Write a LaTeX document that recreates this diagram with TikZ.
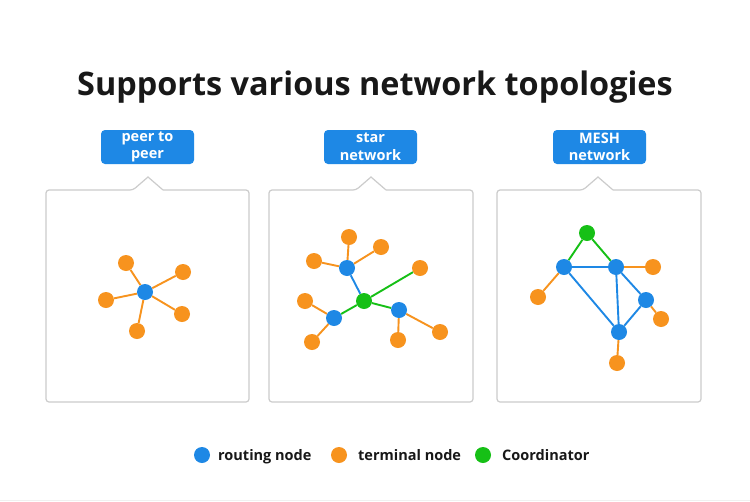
\documentclass[tikz,border=0pt]{standalone}
\usepackage{fontspec}
\setmainfont{Open Sans}
\definecolor{cblue}{RGB}{30,136,229}
\definecolor{corange}{RGB}{247,147,30}
\definecolor{cgreen}{RGB}{22,192,22}
\definecolor{cborder}{RGB}{204,204,204}
\definecolor{ctext}{RGB}{24,24,24}
\begin{document}
\begin{tikzpicture}[x=1pt,y=-1pt,
 dot/.style={circle,inner sep=0pt,minimum size=16pt},
 rnode/.style={dot,fill=cblue},
 tnode/.style={dot,fill=corange},
 cnode/.style={dot,fill=cgreen},
 te/.style={draw=corange,line width=1.9pt},
 be/.style={draw=cblue,line width=1.9pt},
 ge/.style={draw=cgreen,line width=1.9pt},
 panel/.style={draw=cborder,line width=1.2pt,fill=white,rounded corners=3pt},
 tag/.style={fill=cblue,rounded corners=4pt,text=white,font=\bfseries\fontsize{14.5}{17.5}\selectfont,align=center,minimum width=93pt,minimum height=34pt,inner sep=0pt},
 legtext/.style={anchor=base west,text=ctext,font=\bfseries\fontsize{14.5}{18}\selectfont,inner sep=0pt}
]
\useasboundingbox[fill=white] (0,0) rectangle (750,501);
\draw[gray!12,line width=1pt] (0,500.5) -- (750,500.5);

% title
\node[anchor=base,text=ctext,font=\bfseries\fontsize{32.4}{40}\selectfont,inner sep=0pt] (title) at (375,95) {Supports various network topologies};

% panels
\draw[panel] (163,190) -- (249,190) -- (249,402) -- (46,402) -- (46,190) -- (133,190) [sharp corners] -- (148,177) -- (163,190);
\draw[panel] (386,190) -- (473,190) -- (473,402) -- (269,402) -- (269,190) -- (356,190) [sharp corners] -- (371,177) -- (386,190);
\draw[panel] (613,190) -- (701,190) -- (701,402) -- (497,402) -- (497,190) -- (583,190) [sharp corners] -- (598,177) -- (613,190);

% tags
\node[tag] (tag1) at (147.5,147) {peer to\\peer};
\node[tag] (tag2) at (370.5,147) {star\\network};
\node[tag] (tag3) at (599.5,147) {MESH\\network};

% panel 1: peer to peer
\node[rnode] (p0) at (145,292) {};
\node[tnode] (p1) at (126,263) {};
\node[tnode] (p2) at (183,272) {};
\node[tnode] (p3) at (106,300) {};
\node[tnode] (p4) at (182,314) {};
\node[tnode] (p5) at (137,331) {};
\foreach \t in {p1,p2,p3,p4,p5} \draw[te] (p0) -- (\t);

% panel 2: star network
\node[cnode] (sg) at (364,301) {};
\node[rnode] (sa) at (347,268) {};
\node[rnode] (sb) at (334,318) {};
\node[rnode] (sc) at (399,310) {};
\node[tnode] (sa1) at (349,237) {};
\node[tnode] (sa2) at (381,247) {};
\node[tnode] (sa3) at (314,261) {};
\node[tnode] (sg1) at (420,268) {};
\node[tnode] (sb1) at (305,301) {};
\node[tnode] (sb2) at (312,342) {};
\node[tnode] (sc1) at (398,340) {};
\node[tnode] (sc2) at (440,332) {};
\draw[be] (sa) -- (sg);
\draw[ge] (sg) -- (sg1);
\draw[ge] (sg) -- (sb);
\draw[ge] (sg) -- (sc);
\foreach \t in {sa1,sa2,sa3} \draw[te] (sa) -- (\t);
\foreach \t in {sb1,sb2} \draw[te] (sb) -- (\t);
\foreach \t in {sc1,sc2} \draw[te] (sc) -- (\t);

% panel 3: mesh network
\node[cnode] (mg) at (587,233) {};
\node[rnode] (ml) at (564,267) {};
\node[rnode] (mr) at (616,267) {};
\node[rnode] (ms) at (646,300) {};
\node[rnode] (mb) at (619,332) {};
\node[tnode] (mr1) at (653,267) {};
\node[tnode] (ml1) at (538,297) {};
\node[tnode] (ms1) at (661,319) {};
\node[tnode] (mb1) at (617,363) {};
\draw[ge] (mg) -- (ml);
\draw[ge] (mg) -- (mr);
\draw[be] (ml) -- (mr);
\draw[be] (ml) -- (mb);
\draw[be] (mr) -- (mb);
\draw[be] (mr) -- (ms);
\draw[be] (ms) -- (mb);
\draw[te] (mr) -- (mr1);
\draw[te] (ml) -- (ml1);
\draw[te] (ms) -- (ms1);
\draw[te] (mb) -- (mb1);

% legend
\node[rnode] (lr) at (202,455) {};
\node[legtext] (lrt) at (218,460.5) {routing node};
\node[tnode] (lt) at (339,455) {};
\node[legtext] (ltt) at (358,460.5) {terminal node};
\node[cnode] (lc) at (483,455) {};
\node[legtext] (lct) at (502,460.5) {Coordinator};
\end{tikzpicture}
\end{document}
